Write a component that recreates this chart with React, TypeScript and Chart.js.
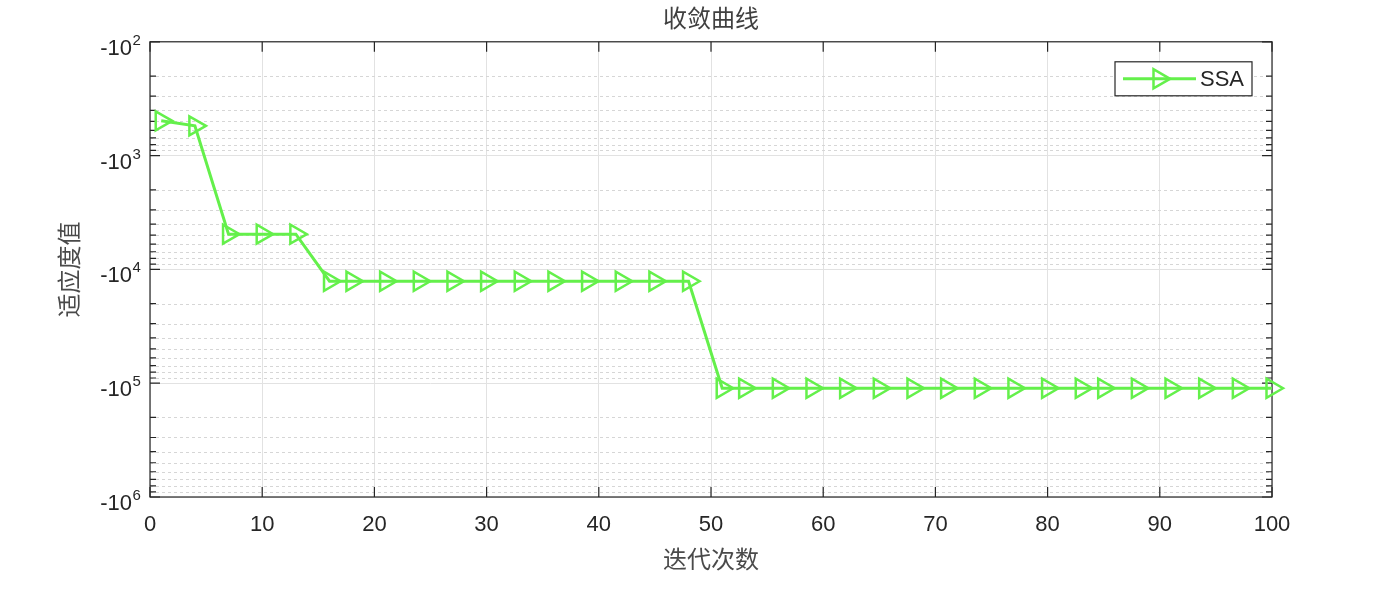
import { useEffect, useRef } from "react";
import { Chart, registerables } from "chart.js";

Chart.register(...registerables);

// ---- data ----
const iterations = [
  1, 4, 7, 10, 13, 16, 18, 21, 24, 27, 30, 33, 36, 39, 42, 45, 48, 51, 53, 56, 59, 62, 65, 68, 71,
  74, 77, 80, 83, 85, 88, 91, 94, 97, 100,
];
const fitness = [
  -495, -548, -4900, -4900, -4900,
  -12700, -12700, -12700, -12700, -12700, -12700, -12700, -12700, -12700, -12700, -12700, -12700,
  -110700, -110700, -110700, -110700, -110700, -110700, -110700, -110700, -110700, -110700,
  -110700, -110700, -110700, -110700, -110700, -110700, -110700, -110700,
];
const yDecades = [2, 3, 4, 5, 6];
const xTickValues = [0, 10, 20, 30, 40, 50, 60, 70, 80, 90, 100];
const seriesName = "SSA";
const chartTitle = "收敛曲线";
const xTitle = "迭代次数";
const yTitle = "适应度值";

const GREEN = "rgb(100, 240, 75)";
const AXIS = "#262626";
const GRID = "#e2e2e2";
const LATIN = "'Liberation Sans', Arial, Helvetica, sans-serif";
const CJK = "'Noto Sans CJK SC', 'Noto Sans', sans-serif";

const isPow10 = (v: number) => {
  const e = Math.log10(v);
  return Math.abs(e - Math.round(e)) < 1e-9;
};

const drawTri = (ctx: CanvasRenderingContext2D, x: number, y: number, r: number) => {
  ctx.beginPath();
  for (let i = 0; i < 3; i++) {
    const a = Math.PI / 2 + (i * 2 * Math.PI) / 3;
    const px = x + Math.sin(a) * r;
    const py = y - Math.cos(a) * r;
    if (i === 0) ctx.moveTo(px, py);
    else ctx.lineTo(px, py);
  }
  ctx.closePath();
  ctx.stroke();
};

const matlabAxes = {
  id: "matlabAxes",
  beforeDatasetsDraw(chart: any) {
    const { ctx, chartArea: ca, scales } = chart;
    const y = scales.y;
    const x = scales.x;
    ctx.save();
    // minor dotted grid
    ctx.strokeStyle = "#d6d6d6";
    ctx.lineWidth = 1;
    ctx.setLineDash([3, 3]);
    y.ticks.forEach((t: any) => {
      if (isPow10(t.value)) return;
      const py = Math.round(y.getPixelForValue(t.value)) + 0.5;
      ctx.beginPath();
      ctx.moveTo(ca.left, py);
      ctx.lineTo(ca.right, py);
      ctx.stroke();
    });
    ctx.setLineDash([]);
    // box
    ctx.strokeStyle = AXIS;
    ctx.lineWidth = 1.2;
    ctx.strokeRect(ca.left, ca.top, ca.right - ca.left, ca.bottom - ca.top);
    // y ticks (inward, left & right)
    y.ticks.forEach((t: any) => {
      const py = y.getPixelForValue(t.value);
      const len = isPow10(t.value) ? 10 : 6;
      ctx.beginPath();
      ctx.moveTo(ca.left, py);
      ctx.lineTo(ca.left + len, py);
      ctx.moveTo(ca.right, py);
      ctx.lineTo(ca.right - len, py);
      ctx.stroke();
    });
    // x ticks (inward, bottom & top)
    x.ticks.forEach((t: any) => {
      const px = x.getPixelForValue(t.value);
      ctx.beginPath();
      ctx.moveTo(px, ca.bottom);
      ctx.lineTo(px, ca.bottom - 10);
      ctx.moveTo(px, ca.top);
      ctx.lineTo(px, ca.top + 10);
      ctx.stroke();
    });
    // y tick labels: -10 with raised exponent
    ctx.fillStyle = AXIS;
    ctx.textBaseline = "alphabetic";
    y.ticks.forEach((t: any) => {
      if (!isPow10(t.value)) return;
      const e = String(Math.round(Math.log10(t.value)));
      const py = y.getPixelForValue(t.value);
      const xr = ca.left - 18;
      ctx.font = `22px ${LATIN}`;
      ctx.textAlign = "right";
      ctx.fillText("-10", xr, py + 13);
      ctx.font = `15px ${LATIN}`;
      ctx.textAlign = "left";
      ctx.fillText(e, xr + 0.5, py + 3);
    });
    ctx.restore();
  },
  afterDraw(chart: any) {
    const { ctx, chartArea: ca } = chart;
    ctx.save();
    const w = 137;
    const h = 34;
    const bx = ca.right - 20 - w;
    const by = ca.top + 20;
    ctx.fillStyle = "#ffffff";
    ctx.fillRect(bx, by, w, h);
    ctx.strokeStyle = AXIS;
    ctx.lineWidth = 1.2;
    ctx.strokeRect(bx, by, w, h);
    const cy = by + h / 2;
    ctx.strokeStyle = GREEN;
    ctx.lineWidth = 3;
    ctx.beginPath();
    ctx.moveTo(bx + 8, cy);
    ctx.lineTo(bx + 81, cy);
    ctx.stroke();
    ctx.lineWidth = 2.5;
    drawTri(ctx, bx + 44, cy, 11);
    ctx.fillStyle = AXIS;
    ctx.font = `22px ${LATIN}`;
    ctx.textAlign = "left";
    ctx.textBaseline = "middle";
    ctx.fillText(seriesName, bx + 85, cy + 1);
    ctx.restore();
  },
};

export default function App() {
  const ref = useRef<HTMLCanvasElement | null>(null);

  useEffect(() => {
    if (!ref.current) return;
    const points = iterations.map((it, i) => ({ x: it, y: Math.abs(fitness[i]) }));
    const chart = new Chart(ref.current, {
      type: "line",
      data: {
        datasets: [
          {
            label: seriesName,
            data: points,
            borderColor: GREEN,
            borderWidth: 3,
            tension: 0,
            pointStyle: "triangle",
            pointRotation: 90,
            pointRadius: 11,
            pointBorderWidth: 2.5,
            pointBorderColor: GREEN,
            pointBackgroundColor: "rgba(0,0,0,0)",
            clip: false as any,
          },
        ],
      },
      options: {
        animation: false,
        responsive: true,
        maintainAspectRatio: false,
        layout: { padding: { left: 0, right: 128, top: 0, bottom: 0 } },
        plugins: {
          legend: { display: false },
          tooltip: { enabled: false },
          title: {
            display: true,
            fullSize: false,
            text: chartTitle,
            color: "#404040",
            font: { family: CJK, size: 24, weight: "normal" },
            padding: { top: 3, bottom: 10 },
          },
        },
        scales: {
          x: {
            type: "linear",
            min: 0,
            max: 100,
            afterBuildTicks: (scale: any) => {
              scale.ticks = xTickValues.map((v) => ({ value: v }));
            },
            afterFit: (scale: any) => {
              scale.height = 93;
            },
            ticks: {
              autoSkip: false,
              maxRotation: 0,
              padding: 15,
              color: AXIS,
              font: { family: LATIN, size: 22 },
            },
            grid: { color: GRID, lineWidth: 1, drawTicks: false },
            border: { display: false },
            title: {
              display: true,
              text: xTitle,
              color: "#4a4a4a",
              font: { family: CJK, size: 24 },
              padding: { top: 0, bottom: 17 },
            },
          },
          y: {
            type: "logarithmic",
            reverse: true,
            min: Math.pow(10, yDecades[0]),
            max: Math.pow(10, yDecades[yDecades.length - 1]),
            afterBuildTicks: (scale: any) => {
              const ticks: any[] = [];
              for (let k = 0; k < yDecades.length - 1; k++) {
                for (let m = 1; m <= 9; m++) {
                  const v = m * Math.pow(10, yDecades[k]);
                  ticks.push({ value: v, major: m === 1 });
                }
              }
              ticks.push({ value: Math.pow(10, yDecades[yDecades.length - 1]), major: true });
              scale.ticks = ticks;
            },
            afterFit: (scale: any) => {
              scale.width = 150;
            },
            ticks: {
              autoSkip: false,
              display: false,
            },
            grid: {
              drawTicks: false,
              lineWidth: 1,
              color: (ctx: any) => (ctx.tick && isPow10(ctx.tick.value) ? GRID : "rgba(0,0,0,0)"),
            },
            border: { display: false },
            title: {
              display: true,
              text: yTitle,
              color: "#4a4a4a",
              font: { family: CJK, size: 24 },
              padding: { top: 54, bottom: 0 },
            },
          },
        },
      },
      plugins: [matlabAxes],
    });
    return () => chart.destroy();
  }, []);

  return (
    <div style={{ position: "fixed", left: 0, top: 0, width: 1400, height: 590, background: "#fff" }}>
      <canvas ref={ref} />
    </div>
  );
}
